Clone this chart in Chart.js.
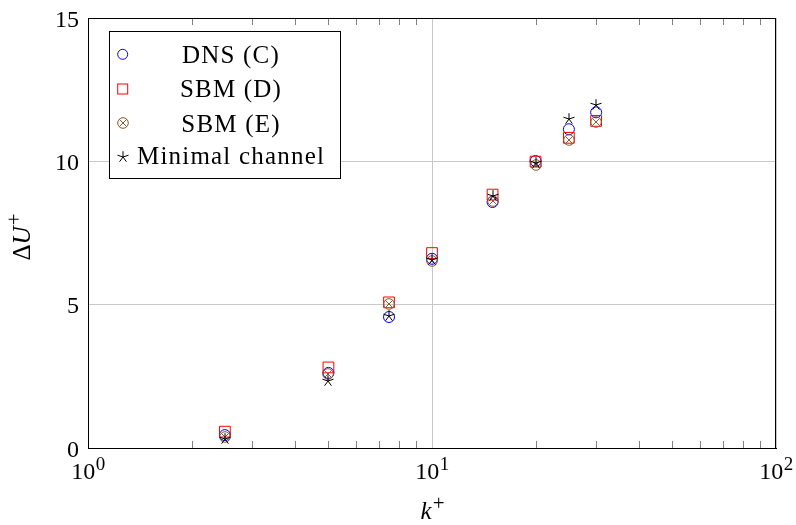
<!DOCTYPE html>
<html><head><meta charset="utf-8">
<script src="https://cdn.jsdelivr.net/npm/chart.js@4"></script>
<style>html,body{margin:0;padding:0;background:#fff;}canvas{display:block;}</style>
</head><body>
<canvas id="c" width="796" height="525"></canvas>
<script>
// ---- data ----
const kPlus   = [2.5, 5, 7.5, 10, 15, 20, 25, 30];
const dnsC    = [0.45, 2.62, 4.57, 6.60, 8.58, 10.01, 11.12, 11.71];
const sbmD    = [0.57, 2.81, 5.08, 6.80, 8.84, 9.99, 10.82, 11.41];
const sbmE    = [0.40, 2.58, 5.04, 6.52, 8.60, 9.87, 10.75, 11.36];
const minimal = [0.33, 2.32, 4.61, 6.57, 8.78, 9.95, 11.46, 11.97];
const seriesLabels = ['DNS (C)', 'SBM (D)', 'SBM (E)', 'Minimal channel'];
const xTickValues = [1, 10, 100];
const xTickExponents = ['0', '1', '2'];
const yTickValues = [0, 5, 10, 15];
const xMinorValues = [2,3,4,5,6,7,8,9,20,30,40,50,60,70,80,90];

const FONT = '"Liberation Serif", "Times New Roman", serif';
const BROWN = '#8c5a2d';

function makeOtimes() {
  const c = document.createElement('canvas'); c.width = 14; c.height = 14;
  const g = c.getContext('2d'); g.strokeStyle = BROWN; g.lineWidth = 1;
  g.beginPath(); g.arc(7, 7, 5.3, 0, Math.PI * 2); g.stroke();
  const d = 5.3 * Math.SQRT1_2;
  g.beginPath(); g.moveTo(7 - d, 7 - d); g.lineTo(7 + d, 7 + d);
  g.moveTo(7 + d, 7 - d); g.lineTo(7 - d, 7 + d); g.stroke();
  return c;
}
function makeStar() {
  const c = document.createElement('canvas'); c.width = 14; c.height = 14;
  const g = c.getContext('2d'); g.strokeStyle = '#000'; g.lineWidth = 1;
  g.beginPath();
  for (let i = 0; i < 5; i++) {
    const a = -Math.PI / 2 + i * 2 * Math.PI / 5;
    g.moveTo(7, 7); g.lineTo(7 + 5.8 * Math.cos(a), 7 + 5.8 * Math.sin(a));
  }
  g.stroke();
  return c;
}
const otimesImg = makeOtimes();
const starImg = makeStar();

const pts = arr => kPlus.map((k, i) => ({ x: k, y: arr[i] }));

const datasets = [
  { label: seriesLabels[0], data: pts(dnsC), pointStyle: 'circle', pointRadius: 5.5,
    borderColor: '#0000ff', backgroundColor: 'rgba(0,0,0,0)', borderWidth: 1, order: 3 },
  { label: seriesLabels[1], data: pts(sbmD), pointStyle: 'rect', pointRadius: 7.6,
    borderColor: '#ff0000', backgroundColor: 'rgba(0,0,0,0)', borderWidth: 1, order: 2 },
  { label: seriesLabels[2], data: pts(sbmE), pointStyle: otimesImg, pointRadius: 6,
    borderColor: BROWN, backgroundColor: 'rgba(0,0,0,0)', borderWidth: 1, order: 1 },
  { label: seriesLabels[3], data: pts(minimal), pointStyle: starImg, pointRadius: 6,
    borderColor: '#000', backgroundColor: 'rgba(0,0,0,0)', borderWidth: 1, order: 0 }
];

function drawMarker(ctx, i, x, y) {
  ctx.save();
  ctx.lineWidth = 1;
  if (i === 0) {
    ctx.strokeStyle = '#0000ff'; ctx.beginPath(); ctx.arc(x, y, 5, 0, Math.PI * 2); ctx.stroke();
  } else if (i === 1) {
    ctx.strokeStyle = '#ff0000'; ctx.strokeRect(x - 5, y - 5, 10, 10);
  } else if (i === 2) {
    ctx.drawImage(otimesImg, Math.round(x - 7), Math.round(y - 7));
  } else {
    ctx.drawImage(starImg, Math.round(x - 7), Math.round(y - 7));
  }
  ctx.restore();
}

const decor = {
  id: 'decor',
  beforeDraw(chart) {
    const ctx = chart.ctx;
    ctx.save(); ctx.fillStyle = '#fff'; ctx.fillRect(0, 0, chart.width, chart.height); ctx.restore();
  },
  beforeDatasetsDraw(chart) {
    const ctx = chart.ctx, a = chart.chartArea, xs = chart.scales.x;
    ctx.save();
    ctx.strokeStyle = '#808080'; ctx.lineWidth = 1;
    ctx.beginPath();
    xMinorValues.forEach(v => {
      const px = Math.round(xs.getPixelForValue(v)) + 0.5;
      ctx.moveTo(px, a.bottom); ctx.lineTo(px, a.bottom - 7);
      ctx.moveTo(px, a.top); ctx.lineTo(px, a.top + 7);
    });
    ctx.stroke();
    ctx.restore();
    ctx.imageSmoothingEnabled = false;
  },
  afterDatasetsDraw(chart) {
    chart.ctx.imageSmoothingEnabled = true;
  },
  afterDraw(chart) {
    const ctx = chart.ctx, a = chart.chartArea, xs = chart.scales.x, ys = chart.scales.y;
    ctx.save();
    // frame
    ctx.strokeStyle = '#000'; ctx.lineWidth = 1;
    ctx.strokeRect(Math.round(a.left) + 0.5, Math.round(a.top) + 0.5,
                   Math.round(a.right - a.left) - 1, Math.round(a.bottom - a.top));
    ctx.fillStyle = '#000';
    ctx.textBaseline = 'alphabetic';
    // x tick labels
    xTickValues.forEach((v, i) => {
      const px = xs.getPixelForValue(v);
      ctx.font = `24px ${FONT}`; const w1 = ctx.measureText('10').width;
      ctx.font = `19px ${FONT}`; const w2 = ctx.measureText(xTickExponents[i]).width;
      const x0 = px - (w1 + w2) / 2;
      ctx.textAlign = 'left';
      ctx.font = `24px ${FONT}`; ctx.fillText('10', x0, 479);
      ctx.font = `19px ${FONT}`; ctx.fillText(xTickExponents[i], x0 + w1 + 0.5, 470);
    });
    // y tick labels
    ctx.font = `24px ${FONT}`; ctx.textAlign = 'right';
    yTickValues.forEach(v => {
      const py = ys.getPixelForValue(v);
      ctx.fillText(String(v), 79, py + 8.5);
    });
    // x title k+
    ctx.textAlign = 'left';
    ctx.font = `italic 25px ${FONT}`;
    const wk = ctx.measureText('k').width;
    ctx.font = `21px ${FONT}`;
    const wp = ctx.measureText('+').width;
    const xc = (a.left + a.right) / 2;
    const kx0 = xc - (wk + wp) / 2;
    ctx.font = `italic 25px ${FONT}`; ctx.fillText('k', kx0, 519);
    ctx.font = `21px ${FONT}`; ctx.fillText('+', kx0 + wk + 1, 510);
    // y title ΔU+
    ctx.save();
    ctx.translate(30, (a.top + a.bottom) / 2 + 4);
    ctx.rotate(-Math.PI / 2);
    ctx.font = `25px ${FONT}`; const wd = ctx.measureText('Δ').width;
    ctx.font = `italic 25px ${FONT}`; const wu = ctx.measureText('U').width;
    ctx.font = `21px ${FONT}`; const wpl = ctx.measureText('+').width;
    let tx = -(wd + wu + wpl + 1) / 2;
    ctx.font = `25px ${FONT}`; ctx.fillText('Δ', tx, 0); tx += wd;
    ctx.font = `italic 25px ${FONT}`; ctx.fillText('U', tx, 0); tx += wu + 1;
    ctx.font = `21px ${FONT}`; ctx.fillText('+', tx, -9);
    ctx.restore();
    // legend
    ctx.fillStyle = '#fff';
    ctx.fillRect(109.5, 31.5, 231, 147);
    ctx.strokeStyle = '#000'; ctx.lineWidth = 1;
    ctx.strokeRect(109.5, 31.5, 231, 147);
    const rowsText = [62.5, 97, 131.5, 163.5];
    const rowsMark = [54.3, 89, 123.3, 156.5];
    ctx.fillStyle = '#000'; ctx.font = `25px ${FONT}`;
    try { ctx.letterSpacing = '1.2px'; } catch (e) {}
    chart.data.datasets.forEach((ds, i) => {
      drawMarker(ctx, i, 122.7, rowsMark[i]);
      if (i === 3) {
        ctx.textAlign = 'left';
        ctx.fillText(ds.label, 137, rowsText[i]);
      } else {
        ctx.textAlign = 'center';
        ctx.fillText(ds.label, 231, rowsText[i]);
      }
    });
    try { ctx.letterSpacing = '0px'; } catch (e) {}
    ctx.restore();
  }
};

new Chart(document.getElementById('c'), {
  type: 'scatter',
  data: { datasets },
  options: {
    responsive: false,
    devicePixelRatio: 1,
    animation: false,
    events: [],
    layout: { padding: { top: 18, right: 20, left: 0, bottom: 0 } },
    plugins: { legend: { display: false }, tooltip: { enabled: false } },
    scales: {
      x: {
        type: 'logarithmic', min: 1, max: 100,
        afterBuildTicks: s => { s.ticks = xTickValues.map(v => ({ value: v })); },
        ticks: { display: false },
        grid: { color: '#c8c8c8', lineWidth: 1, drawTicks: false },
        border: { display: true, color: '#000', width: 1 },
        afterFit: s => { s.height = 77; }
      },
      y: {
        min: 0, max: 15,
        afterBuildTicks: s => { s.ticks = yTickValues.map(v => ({ value: v })); },
        ticks: { display: false },
        grid: { color: '#c8c8c8', lineWidth: 1, drawTicks: false },
        border: { display: true, color: '#000', width: 1 },
        afterFit: s => { s.width = 88; }
      }
    }
  },
  plugins: [decor]
});
</script>
</body></html>
